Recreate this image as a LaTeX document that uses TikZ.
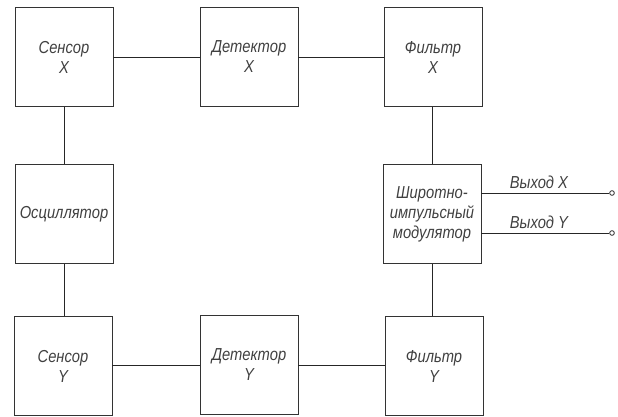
\documentclass[tikz,border=0pt]{standalone}
\usepackage{fontspec}
\setmainfont{Liberation Sans}[FakeStretch=0.85]
\usetikzlibrary{positioning}

\begin{document}
\begin{tikzpicture}[
    x=0.75pt,
    y=-0.75pt,
    font=\itshape\fontsize{13}{15}\selectfont,
    line/.style={draw=black!85, line width=0.7pt},
    block/.style={
        draw=black!80,
        line width=0.7pt,
        align=center,
        text=black!75,
        minimum width=73.5pt,
        minimum height=74pt,
        inner sep=2pt
    },
    term/.style={
        circle,
        draw=black!80,
        line width=0.6pt,
        fill=white,
        inner sep=0pt,
        minimum size=3.5pt
    },
    outlabel/.style={above, text=black!75, inner sep=3pt}
]

% Frame
\useasboundingbox (0,0) rectangle (618,417);

% Channel X
\node[block] (sensx) at (64,57) {Сенсор\\X};
\node[block] (detx) at (249,57) {Детектор\\X};
\node[block] (filtx) at (433,57) {Фильтр\\X};

% Oscillator and modulator
\node[block] (osc) at (64,214) {Осциллятор};
\node[block] (pwm) at (432,214) {Широтно-\\импульсный\\модулятор};

% Channel Y
\node[block] (sensy) at (63,366) {Сенсор\\Y};
\node[block] (dety) at (249,365) {Детектор\\Y};
\node[block] (filty) at (434,366) {Фильтр\\Y};

% Outputs
\node[term] (termx) at (612,193) {};
\node[term] (termy) at (612,233) {};

% Connections
\draw[line] (sensx.east) -- (detx.west);
\draw[line] (detx.east) -- (filtx.west);
\draw[line] (sensx.south) -- (osc.north);
\draw[line] (osc.south) -- (sensy.north -| osc.south);
\draw[line] (sensy.east |- dety.west) -- (dety.west);
\draw[line] (dety.east) -- (filty.west |- dety.east);
\draw[line] (filtx.south -| pwm.north) -- (pwm.north);
\draw[line] (pwm.south) -- (filty.north -| pwm.south);

% Output lines
\draw[line] (pwm.east |- termx) -- node[outlabel, pos=0.45] {Выход X} (termx.west);
\draw[line] (pwm.east |- termy) -- node[outlabel, pos=0.45] {Выход Y} (termy.west);

\end{tikzpicture}
\end{document}
